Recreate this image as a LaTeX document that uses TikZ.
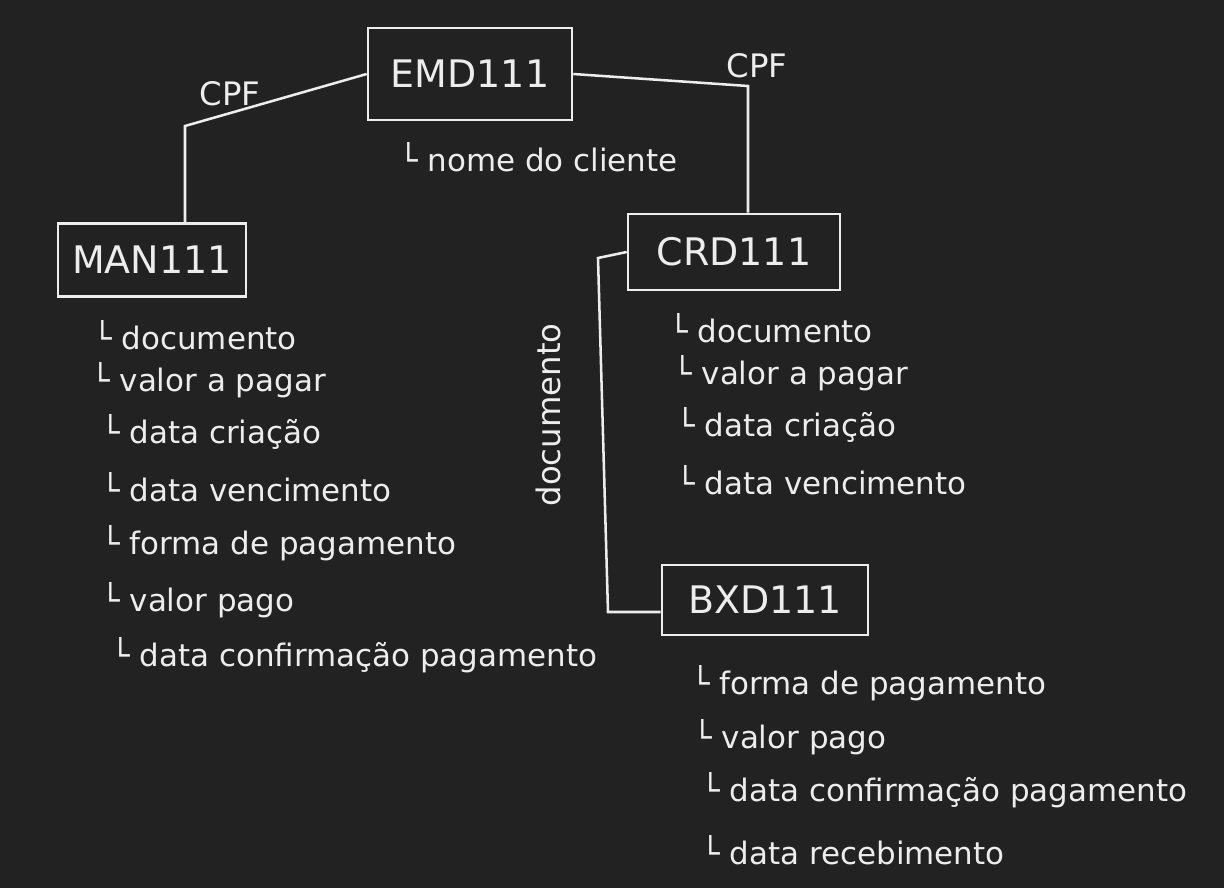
\documentclass[tikz,border=0pt]{standalone}
\usepackage{fontspec}
\setmainfont{DejaVu Sans}
\usetikzlibrary{positioning}
\definecolor{board}{HTML}{222222}
\definecolor{chalk}{HTML}{EDEDED}

\begin{document}
\begin{tikzpicture}[x=0.025cm, y=-0.025cm, line width=1.8pt, draw=chalk, text=chalk,
    table/.style={draw, inner sep=0pt, font=\fontsize{27}{32}\selectfont},
    field/.style={anchor=west, inner sep=0pt, font=\fontsize{22}{26}\selectfont},
    rel/.style={inner sep=0pt, font=\fontsize{23}{27}\selectfont}]

% board
\fill[board] (0, 0) rectangle (1224, 888);
\def\tick{└\ }

% tables
\node[table, minimum width=5.1cm, minimum height=2.3cm] (emd) at (470, 74) {EMD111};
\node[table, minimum width=4.7cm, minimum height=1.83cm] (man) at (152, 260) {MAN111};
\node[table, minimum width=5.3cm, minimum height=1.9cm] (crd) at (734, 252) {CRD111};
\node[table, minimum width=5.15cm, minimum height=1.75cm] (bxd) at (765, 600) {BXD111};

% fields
\node[field] (emd-nome) at (398, 157) {\tick nome do cliente};

\node[field] (man-doc) at (92, 335) {\tick documento};
\node[field] (man-valor) at (90, 380) {\tick valor a pagar};
\node[field] (man-criacao) at (100, 432) {\tick data criação};
\node[field] (man-venc) at (100, 487) {\tick data vencimento};
\node[field] (man-forma) at (100, 543) {\tick forma de pagamento};
\node[field] (man-pago) at (100, 600) {\tick valor pago};
\node[field] (man-conf) at (110, 655) {\tick data confirmação pagamento};

\node[field] (crd-doc) at (668, 328) {\tick documento};
\node[field] (crd-valor) at (672, 373) {\tick valor a pagar};
\node[field] (crd-criacao) at (675, 425) {\tick data criação};
\node[field] (crd-venc) at (675, 480) {\tick data vencimento};

\node[field] (bxd-forma) at (690, 683) {\tick forma de pagamento};
\node[field] (bxd-pago) at (692, 737) {\tick valor pago};
\node[field] (bxd-conf) at (700, 790) {\tick data confirmação pagamento};
\node[field] (bxd-receb) at (700, 850) {\tick data recebimento};

% relations
\coordinate (c1) at (185, 126);
\draw (emd.west) -- (c1) -- (c1 |- man.north);
\node[rel] (cpf1) at (230, 94) {CPF};

\coordinate (c2) at (748, 86);
\draw (emd.east) -- (c2) -- (c2 |- crd.north);
\node[rel] (cpf2) at (757, 66) {CPF};

\coordinate (c3) at (598, 258);
\coordinate (c4) at (608, 612);
\draw (crd.west) -- (c3) -- (c4) -- (c4 -| bxd.west);
\node[rel, rotate=90] (doc) at (548, 415) {documento};

\end{tikzpicture}
\end{document}
